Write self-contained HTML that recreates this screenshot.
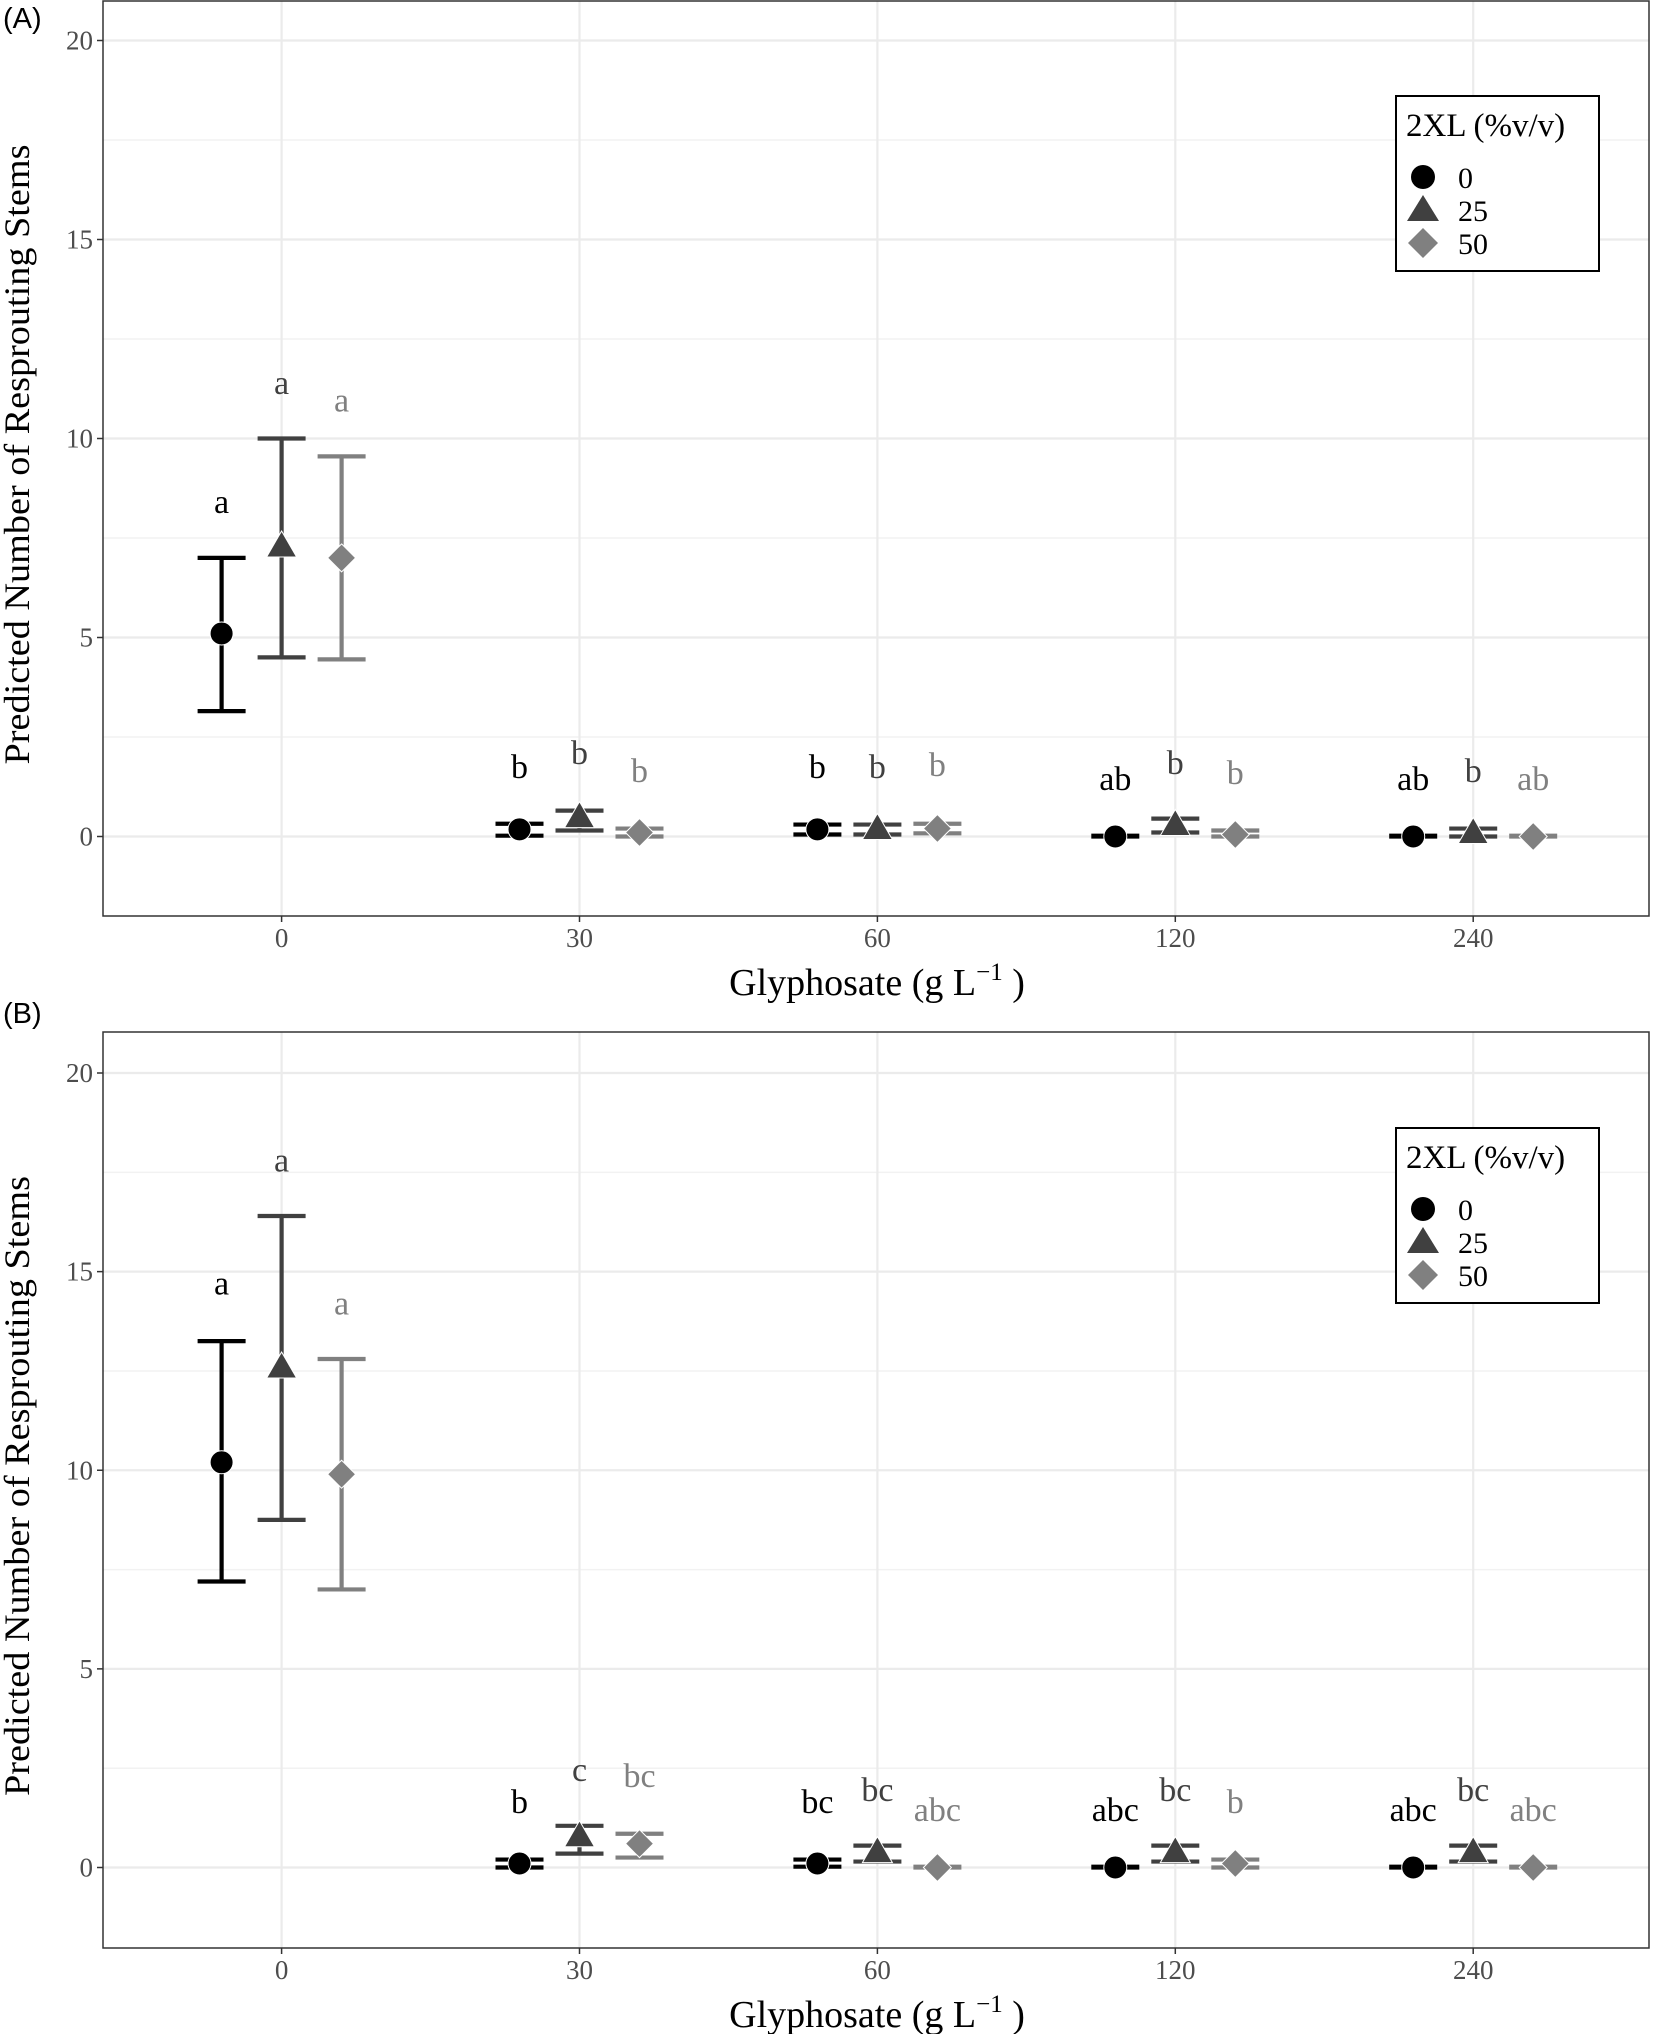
<!DOCTYPE html>
<html><head><meta charset="utf-8"><style>
html,body{margin:0;padding:0;background:#fff;}
svg{display:block;font-family:"Liberation Serif",serif;}
</style></head><body>
<svg id="chart" width="1653" height="2034" viewBox="0 0 1653 2034" xmlns="http://www.w3.org/2000/svg"></svg>
<script>
// ---- data ----
const categories = ["0","30","60","120","240"];
const groups = ["0","25","50"];
const yTicks = [0,5,10,15,20];
// Panel A
const aMean = [[5.1,0.18,0.18,0.0,0.0],[7.3,0.5,0.2,0.3,0.1],[7.0,0.1,0.2,0.05,0.0]];
const aLow  = [[3.15,0.02,0.05,0.0,0.0],[4.5,0.15,0.05,0.1,0.0],[4.45,0.0,0.08,0.0,0.0]];
const aHigh = [[7.0,0.32,0.3,0.02,0.02],[10.0,0.65,0.3,0.45,0.2],[9.55,0.2,0.32,0.15,0.02]];
const aLetters = [["a","b","b","ab","ab"],["a","b","b","b","b"],["a","b","b","b","ab"]];
const aLetterY = [[8.4,1.75,1.75,1.45,1.45],[11.4,2.1,1.75,1.85,1.65],[10.95,1.65,1.8,1.6,1.45]];
// Panel B
const bMean = [[10.2,0.1,0.1,0.0,0.0],[12.6,0.8,0.4,0.4,0.4],[9.9,0.6,0.0,0.1,0.0]];
const bLow  = [[7.2,0.0,0.02,0.0,0.0],[8.75,0.35,0.15,0.15,0.15],[7.0,0.25,0.0,0.0,0.0]];
const bHigh = [[13.25,0.2,0.2,0.02,0.02],[16.4,1.05,0.55,0.55,0.55],[12.8,0.85,0.02,0.2,0.02]];
const bLetters = [["a","b","bc","abc","abc"],["a","c","bc","bc","bc"],["a","bc","abc","b","abc"]];
const bLetterY = [[14.7,1.65,1.65,1.45,1.45],[17.8,2.45,1.95,1.95,1.95],[14.2,2.3,1.45,1.65,1.45]];

const NS="http://www.w3.org/2000/svg";
const svg=document.getElementById('chart');
const colors=["#000000","#404040","#808080"];
function el(tag,attrs,parent){const e=document.createElementNS(NS,tag);for(const k in attrs)e.setAttribute(k,attrs[k]);(parent||svg).appendChild(e);return e;}
const SERIF='Liberation Serif, serif';

function panel(cfg){
  const L=103,R=1649,T=cfg.top,B=cfg.bottom,y0=cfg.y0,y20=cfg.y20;
  const ys=v=>y0+(y20-y0)*v/20;
  const xs=i=>281.6+i*297.9;
  const dodge=60;
  const g=el('g',{});
  
  
  const lab=el('text',{x:3,y:cfg.labelY,'font-family':'Liberation Sans, sans-serif','font-size':29},g);
  lab.textContent=cfg.label;
  
  for(let v=-2.5;v<=20;v+=5){const y=ys(v);if(y<B&&y>T)el('line',{x1:L,x2:R,y1:y,y2:y,stroke:'#f2f2f2','stroke-width':1.5},g);}
  yTicks.forEach(v=>{const y=ys(v);
    const gl=el('line',{x1:L,x2:R,y1:y,y2:y,stroke:'#ebebeb','stroke-width':2.2},g);
    
    el('line',{x1:L-6,x2:L,y1:y,y2:y,stroke:'#333','stroke-width':1.5},g);
    const t=el('text',{x:L-10,y:y+9,'text-anchor':'end','font-size':27,fill:'#4d4d4d','font-family':SERIF},g);t.textContent=v;
    
  });
  categories.forEach((c,i)=>{const x=xs(i);
    const gl=el('line',{x1:x,x2:x,y1:T,y2:B,stroke:'#ebebeb','stroke-width':2.2},g);
    
    el('line',{x1:x,x2:x,y1:B,y2:B+6,stroke:'#333','stroke-width':1.5},g);
    const t=el('text',{x:x,y:B+31,'text-anchor':'middle','font-size':27,fill:'#4d4d4d','font-family':SERIF},g);t.textContent=c;
    
  });
  const fr=el('rect',{x:L,y:T,width:R-L,height:B-T,fill:'none',stroke:'#333','stroke-width':1.5},g);
  
  for(let s=0;s<3;s++){
    for(let i=0;i<categories.length;i++){
      const x=xs(i)+(s-1)*dodge,col=colors[s];
      const lo=ys(cfg.low[s][i]),hi=ys(cfg.high[s][i]),m=ys(cfg.mean[s][i]);
      const eb=el('path',{d:`M${x-24},${hi}H${x+24}M${x},${hi}V${lo}M${x-24},${lo}H${x+24}`,stroke:col,'stroke-width':4.2,fill:'none'},g);
      
      let mk;
      if(s===0) mk=el('circle',{cx:x,cy:m,r:11.5,fill:col,stroke:'#fff','stroke-width':1},g);
      else if(s===1) mk=el('path',{d:`M${x},${m-15}L${x+15},${m+11}L${x-15},${m+11}Z`,fill:col,stroke:'#fff','stroke-width':1},g);
      else mk=el('path',{d:`M${x},${m-14}L${x+14},${m}L${x},${m+14}L${x-14},${m}Z`,fill:col,stroke:'#fff','stroke-width':1},g);
      
      const t=el('text',{x:x,y:ys(cfg.ly[s][i])+11,'text-anchor':'middle','font-size':34,fill:col,'font-family':SERIF},g);
      t.textContent=cfg.letters[s][i];
      
    }
  }
  const xt=el('text',{x:877,y:cfg.xTitleY,'text-anchor':'middle','font-size':38,'font-family':SERIF},g);
  xt.innerHTML='Glyphosate (g L<tspan dy="-15" font-size="25">−1</tspan><tspan dy="15"> )</tspan>';
  
  const cy=(T+B)/2-4;
  const yt=el('text',{x:0,y:0,'text-anchor':'middle','font-size':36,'font-family':SERIF,transform:`translate(29,${cy}) rotate(-90)`,textLength:620,lengthAdjust:'spacingAndGlyphs'},g);
  yt.textContent='Predicted Number of Resprouting Stems';
  
  const lg=el('g',{},g);
  
  const ly=cfg.legendY;
  el('rect',{x:1396,y:ly,width:203,height:175,fill:'#fff',stroke:'#000','stroke-width':2},lg);
  const tt=el('text',{x:1406,y:ly+40,'font-size':33,'font-family':SERIF},lg);tt.textContent='2XL (%v/v)';
  
  groups.forEach((gname,k)=>{const cyy=ly+81+k*33,cx=1423;
    const e=el('g',{},lg);
    
    if(k===0) el('circle',{cx:cx,cy:cyy,r:12,fill:colors[0]},e);
    else if(k===1) el('path',{d:`M${cx},${cyy-15}L${cx+16},${cyy+11}L${cx-16},${cyy+11}Z`,fill:colors[1]},e);
    else el('path',{d:`M${cx},${cyy-15}L${cx+15},${cyy}L${cx},${cyy+15}L${cx-15},${cyy}Z`,fill:colors[2]},e);
    const t=el('text',{x:1458,y:cyy+11,'font-size':30,'font-family':SERIF},e);t.textContent=gname;
  });
}
panel({name:'panel-a',label:'(A)',labelY:28,top:1,bottom:916,y0:836.5,y20:40.5,mean:aMean,low:aLow,high:aHigh,letters:aLetters,ly:aLetterY,xTitleY:995,legendY:96});
panel({name:'panel-b',label:'(B)',labelY:1023,top:1032,bottom:1948,y0:1867.5,y20:1073,mean:bMean,low:bLow,high:bHigh,letters:bLetters,ly:bLetterY,xTitleY:2027,legendY:1128});
</script>
</body></html>
